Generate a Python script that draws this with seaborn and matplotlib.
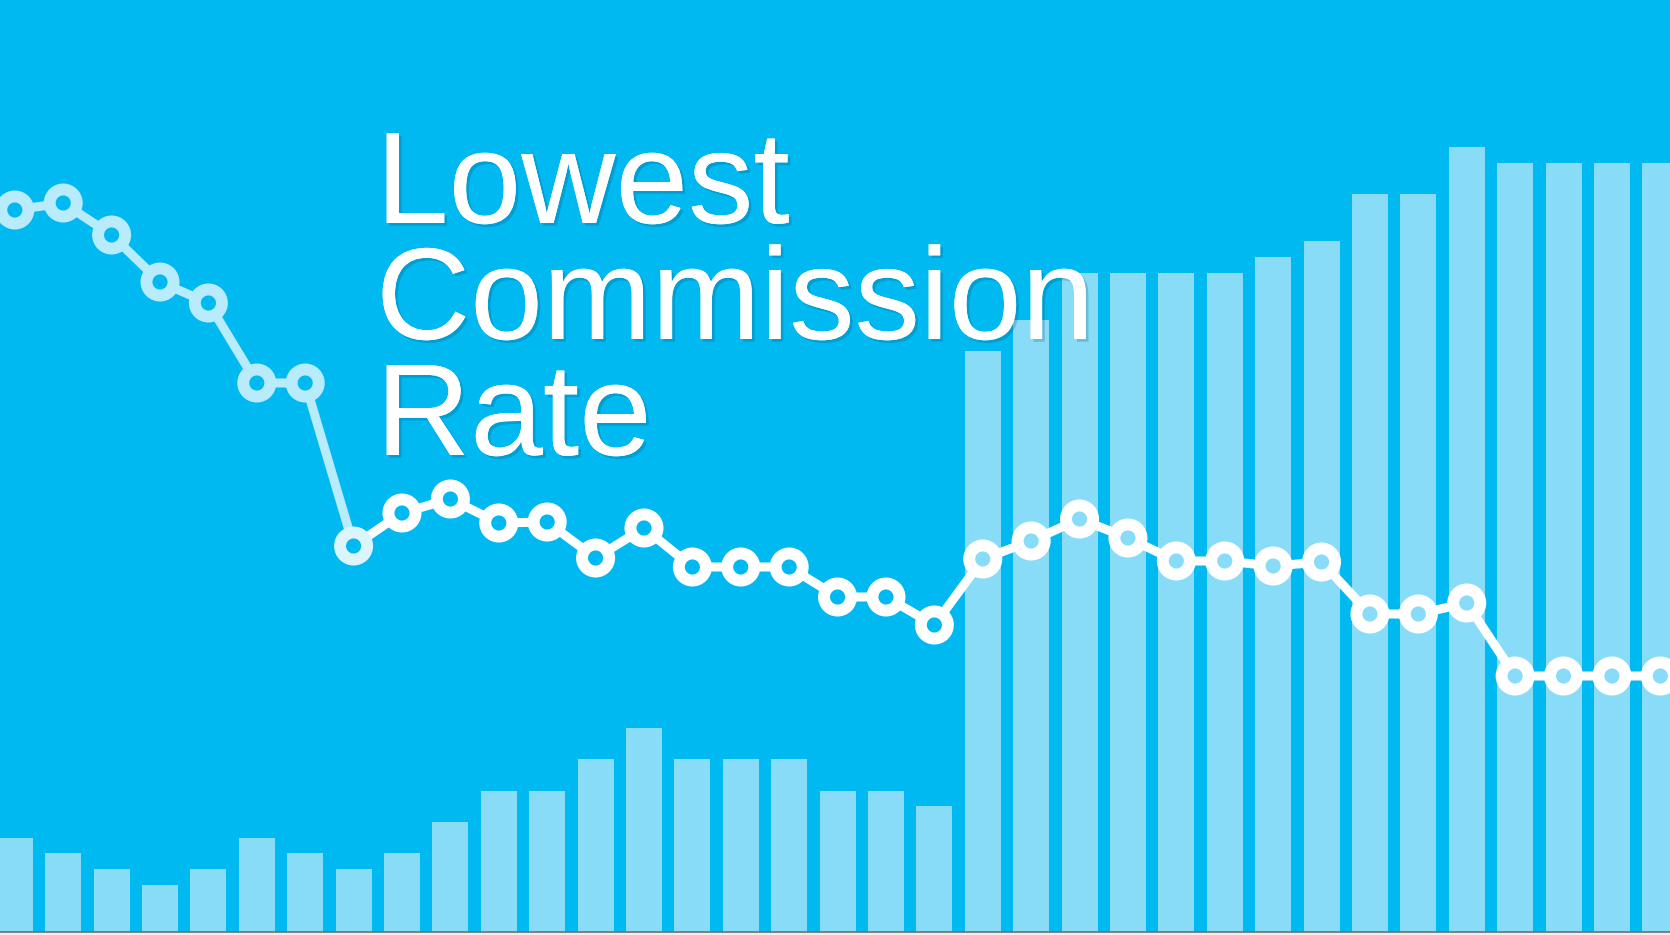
import numpy as np
import pandas as pd
import matplotlib
matplotlib.use("Agg")
import matplotlib.pyplot as plt
import matplotlib.patheffects as pe
import seaborn as sns

# volume bars
bar_values = [6, 5, 4, 3, 4, 6, 5, 4, 5, 7, 9, 9, 11, 13, 11, 11, 11, 9, 9, 8,
              37, 39, 42, 42, 42, 42, 43, 44, 47, 47, 50, 49, 49, 49, 49]

# commission rate line
rate_values = [49.0, 49.7, 46.5, 41.8, 39.7, 31.7, 31.7, 15.4, 18.7, 20.1,
               17.7, 17.8, 14.2, 17.2, 13.3, 13.3, 13.3, 10.3, 10.3, 7.5,
               14.1, 15.9, 18.1, 16.2, 13.9, 13.9, 13.4, 13.8, 8.6, 8.6,
               9.7, 2.4, 2.4, 2.4, 2.4]

title_lines = ["Lowest", "Commission", "Rate"]

BG = "#00b9f0"
BAR = "#89dcf7"
PALE = "#b8ebfb"

sns.set_style("white")
plt.rcParams["font.family"] = ["Liberation Sans", "DejaVu Sans"]

W, H = 1670, 935
fig = plt.figure(figsize=(W / 100, H / 100), dpi=100, facecolor="#efefef")

df = pd.DataFrame({"k": np.arange(len(bar_values)), "bars": bar_values,
                   "rate": rate_values})

# bars
ax = fig.add_axes([0, 3 / H, 1, 932 / H])
ax.set_facecolor(BG)
sns.barplot(data=df, x="k", y="bars", color=BAR, saturation=1, width=0.744,
            linewidth=0, ax=ax)
ax.set_xlim(-0.306, 34.2)
ax.set_ylim(0, 59.36)
ax.set_xticks([])
ax.set_yticks([])
ax.set_xlabel("")
ax.set_ylabel("")
for s in ["top", "left", "right"]:
    ax.spines[s].set_visible(False)
ax.spines["bottom"].set_color("#6f6f6f")
ax.spines["bottom"].set_linewidth(1.2)

# rate line on a twin axis
ax2 = ax.twinx()
ax2.set_ylim(-23.2, 70)
ax2.axis("off")

sns.lineplot(data=df.iloc[:8], x="k", y="rate", color=PALE, lw=6.5, ax=ax2,
             zorder=3)
sns.lineplot(data=df.iloc[7:], x="k", y="rate", color="white", lw=6.5, ax=ax2,
             zorder=3)
ax2.set_xlim(-0.306, 34.2)

# hole colour: bar colour if the point sits on a bar, else background
fig.canvas.draw()
pts = ax2.transData.transform(df[["k", "rate"]].to_numpy())
in_bar = ax.transData.inverted().transform(pts)
faces, edges = [], []
for k, (xb, yb) in enumerate(in_bar):
    j = int(round(xb))
    on_bar = 0 <= j < len(bar_values) and abs(xb - j) < 0.37 and yb < bar_values[j]
    faces.append(BAR if on_bar else BG)
    if k < 7:
        edges.append(PALE)
    elif k == 7:
        edges.append("#dcf5fd")
    else:
        edges.append("white")

ax2.scatter(df["k"], df["rate"], s=380, facecolors=faces,
            edgecolors=edges, linewidths=8.6, zorder=4)

# title
shadow = [pe.withSimplePatchShadow(offset=(2, -2), shadow_rgbFace="#00466b", alpha=0.22),
          pe.Normal()]
baselines = [223, 339, 455]
for txt, yb in zip(title_lines, baselines):
    fig.text(376 / W, 1 - yb / H, txt, color="white", fontsize=94,
             va="baseline", ha="left", path_effects=shadow, zorder=10)

fig.savefig("out.png", dpi=100, facecolor=fig.get_facecolor())
